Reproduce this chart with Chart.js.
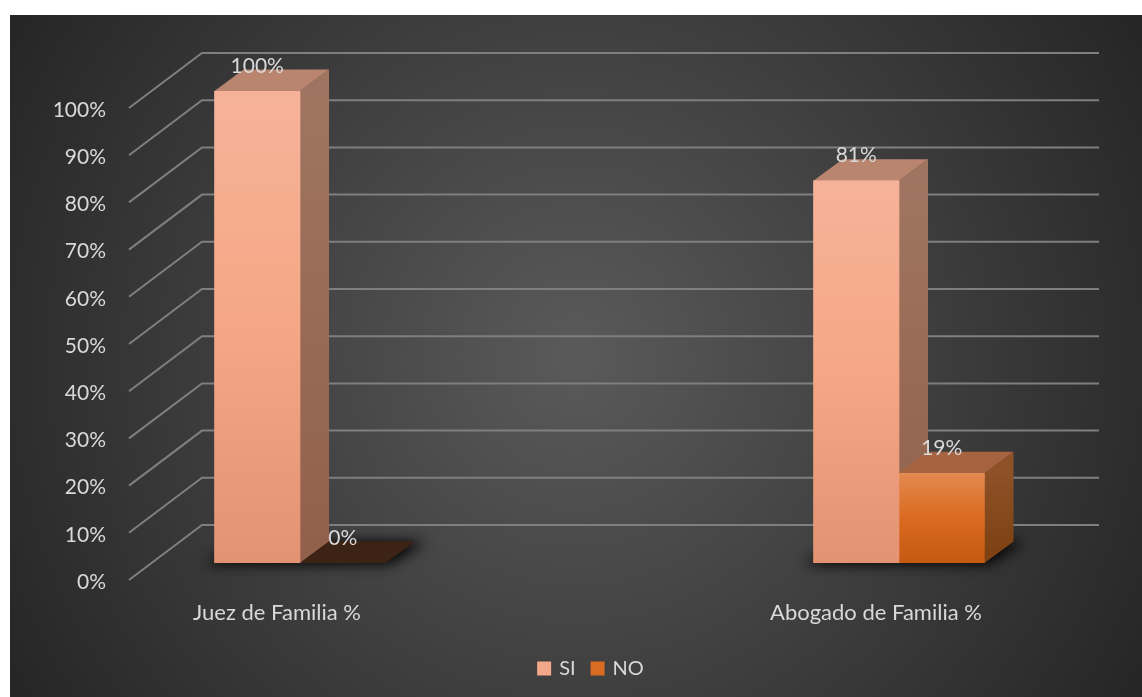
<!DOCTYPE html>
<html>
<head>
<meta charset="utf-8">
<style>html,body{margin:0;padding:0;background:#fff}canvas{display:block}</style>
<script src="https://cdn.jsdelivr.net/npm/chart.js@4/dist/chart.umd.js"></script>
</head>
<body>
<canvas id="c" width="1142" height="697"></canvas>
<script>
const categories = ['Juez de Familia %', 'Abogado de Familia %'];
const seriesNames = ['SI', 'NO'];
const siValues = [100, 81];
const noValues = [0, 19];
const yTicks = [0,10,20,30,40,50,60,70,80,90,100];

const TXT = '#d9d9d9', FONT = 'Lato, Carlito, Calibri, sans-serif';
const DX = 29, DY = 21.5;
const WALL_BACK = -38, WALL_FRONT = 17, FRONT_X = 129;
const styles = [
  {front:['#f6b299','#f5a785','#e39272'], legend:'#f4a88a', top:'#b9856f', side:['#9f7561','#91604a'], floor:'#3d2314'},
  {front:['#e38a50','#da6a20','#c55a11'], legend:'#d86c22', top:'#a7633f', side:['#8e5128','#7c3f10'], floor:'#3d2314'}
];

function frontFill(i){
  return function(ctx){
    if (ctx.type !== 'data' || !ctx.chart.chartArea) return styles[i].legend;
    const y = ctx.chart.scales.y;
    const g = ctx.chart.ctx.createLinearGradient(0, y.getPixelForValue(ctx.parsed.y), 0, y.getPixelForValue(0));
    const f = styles[i].front;
    g.addColorStop(0, f[0]); g.addColorStop(0.5, f[1]); g.addColorStop(1, f[2]);
    return g;
  };
}
function poly(c, pts){
  c.beginPath(); pts.forEach((p,i)=> i ? c.lineTo(p[0],p[1]) : c.moveTo(p[0],p[1])); c.closePath();
}
const scene = {
  id:'scene',
  afterLayout(chart){
    const l = chart.legend;
    l.left += 37; l.right += 37;
    const h = l.bottom - l.top;
    l.top = 665 - h/2; l.bottom = l.top + h;
  },
  beforeDraw(chart){
    const c = chart.ctx, W = chart.width, H = chart.height;
    c.save();
    c.fillStyle = '#fff'; c.fillRect(0,0,W,H);
    const x0 = 10, y0 = 15, cx = (x0+W)/2, cy = (y0+H)/2;
    const g = c.createRadialGradient(cx,cy,0,cx,cy,650);
    g.addColorStop(0,'#5a5a5a'); g.addColorStop(1,'#262626');
    c.fillStyle = g; c.fillRect(x0,y0,W-x0,H-y0);
    c.restore();
  },
  beforeDatasetsDraw(chart){
    const c = chart.ctx, ys = chart.scales.y, right = chart.chartArea.right;
    c.save();
    // walls / gridlines
    c.strokeStyle = '#7f7f7f'; c.lineWidth = 2;
    yTicks.forEach(v=>{
      const p = ys.getPixelForValue(v);
      c.beginPath();
      c.moveTo(FRONT_X, p+WALL_FRONT);
      c.lineTo(FRONT_X+73, p+WALL_BACK);
      c.lineTo(right, p+WALL_BACK);
      c.stroke();
    });
    const metas = [chart.getDatasetMeta(0), chart.getDatasetMeta(1)];
    // soft floor shadow: only the blur is painted, the source shape stays off canvas
    const OFF = 3000;
    categories.forEach((_,i)=>{
      const a = metas[0].data[i], b = metas[1].data[i];
      const l = a.x-a.width/2, r = b.x+b.width/2, base = a.base;
      c.save();
      c.shadowColor = 'rgba(0,0,0,1)'; c.shadowBlur = 14; c.shadowOffsetX = OFF;
      c.fillStyle = '#000';
      poly(c,[[l-10-OFF,base+1],[r+4-OFF,base+1],[r+DX+12-OFF,base-DY],[l+DX-OFF,base-DY]]);
      c.fill();
      c.restore();
    });
    // depth faces
    metas.forEach((m,s)=>{
      m.data.forEach((e,i)=>{
        const st = styles[s], l = e.x-e.width/2, r = e.x+e.width/2, t = e.y, b = e.base;
        if (b - t < 0.5) {
          c.fillStyle = st.floor;
          poly(c,[[l,b],[r,b],[r+DX,b-DY],[l+DX,b-DY]]); c.fill();
          return;
        }
        const g = c.createLinearGradient(0,t,0,b);
        g.addColorStop(0,st.side[0]); g.addColorStop(1,st.side[1]);
        c.fillStyle = g;
        poly(c,[[r,t],[r+DX,t-DY],[r+DX,b-DY],[r,b]]); c.fill();
        c.fillStyle = st.top;
        poly(c,[[l,t],[r,t],[r+DX,t-DY],[l+DX,t-DY]]); c.fill();
      });
    });
    c.restore();
  },
  afterDatasetsDraw(chart){
    const c = chart.ctx;
    c.save();
    c.fillStyle = TXT; c.font = '21px '+FONT; c.textAlign = 'center'; c.textBaseline = 'middle';
    chart.data.datasets.forEach((d,s)=>{
      chart.getDatasetMeta(s).data.forEach((e,i)=>{
        c.fillText(d.data[i].y+'%', e.x, e.y-25);
      });
    });
    c.restore();
  }
};

new Chart(document.getElementById('c'), {
  type:'bar',
  data:{
    datasets:[
      {label:seriesNames[0], data:siValues.map((v,i)=>({x:i,y:v})), backgroundColor:frontFill(0), barThickness:85.5},
      {label:seriesNames[1], data:noValues.map((v,i)=>({x:i,y:v})), backgroundColor:frontFill(1), barThickness:85.5}
    ]
  },
  options:{
    responsive:false, animation:false,
    layout:{padding:{left:10,right:43,top:91,bottom:0}},
    plugins:{
      tooltip:{enabled:false},
      legend:{position:'bottom', labels:{
        color:TXT, boxWidth:10, boxHeight:10, padding:17, font:{family:FONT,size:20},
        generateLabels(chart){
          return seriesNames.map((n,i)=>({
            text:n, datasetIndex:i, fontColor:TXT,
            fillStyle:styles[i].legend, strokeStyle:styles[i].legend, lineWidth:4
          }));
        }
      }}
    },
    scales:{
      x:{
        type:'linear', min:-0.2855, max:1.3339, offset:false,
        grid:{display:false}, border:{display:false},
        afterBuildTicks(ax){ ax.ticks = categories.map((_,i)=>({value:i})); },
        afterFit(ax){ ax.height = 134 - ax.chart.legend.height; },
        ticks:{callback:v=>categories[v], color:TXT, font:{family:FONT,size:22}, padding:29, labelOffset:-23, maxRotation:0, autoSkip:false}
      },
      y:{
        min:0, max:100,
        grid:{display:false}, border:{display:false},
        afterFit(ax){ ax.width = 119; },
        afterBuildTicks(ax){ ax.ticks = yTicks.map(v=>({value:v})); },
        ticks:{callback:v=>v+'%', color:TXT, font:{family:FONT,size:21}, padding:15, labelOffset:19, autoSkip:false}
      }
    }
  },
  plugins:[scene]
});
</script>
</body>
</html>
